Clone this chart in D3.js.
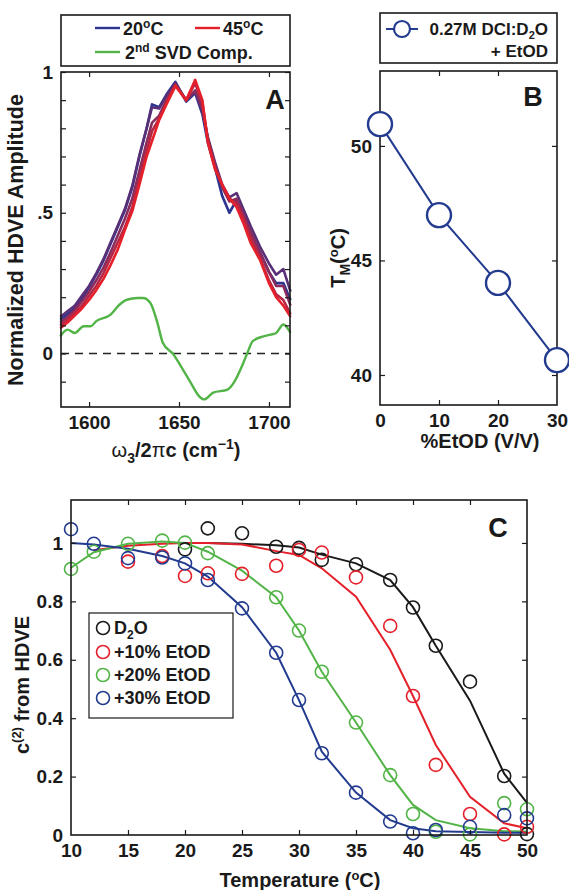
<!DOCTYPE html>
<html>
<head>
<meta charset="utf-8">
<script src="https://cdn.jsdelivr.net/npm/d3@7"></script>
<style>
  body { margin: 0; background: #fff; }
  svg text { font-family: "Liberation Sans", Arial, Helvetica, sans-serif; font-weight: bold; fill: #1a1a1a; }
</style>
</head>
<body>
<div id="chart"></div>
<script>
// ---- Panel A: HDVE spectra ----
const waveNumbers = [1584,1588,1592,1596,1600,1604,1608,1612,1616,1620,1624,1628,1632,1635,1639,1643,1648,1654,1659,1663,1666,1670,1674,1678,1682,1686,1690,1695,1700,1704,1708,1712];
const spec20 = [0.12,0.14,0.16,0.195,0.235,0.28,0.33,0.39,0.45,0.51,0.59,0.70,0.80,0.885,0.875,0.92,0.965,0.895,0.925,0.85,0.75,0.66,0.56,0.50,0.545,0.49,0.43,0.36,0.29,0.25,0.25,0.19];
const spec25 = [0.13,0.15,0.17,0.205,0.24,0.285,0.335,0.395,0.455,0.515,0.595,0.705,0.80,0.875,0.87,0.915,0.96,0.90,0.93,0.86,0.77,0.68,0.60,0.555,0.57,0.51,0.45,0.38,0.32,0.28,0.30,0.22];
const spec30 = [0.11,0.13,0.155,0.185,0.22,0.26,0.305,0.36,0.42,0.48,0.55,0.65,0.75,0.82,0.845,0.90,0.955,0.90,0.935,0.87,0.765,0.67,0.59,0.54,0.55,0.49,0.43,0.36,0.29,0.24,0.24,0.17];
const spec40 = [0.10,0.12,0.145,0.17,0.205,0.24,0.285,0.34,0.395,0.45,0.52,0.62,0.72,0.79,0.835,0.89,0.955,0.90,0.96,0.89,0.76,0.66,0.60,0.55,0.535,0.48,0.41,0.34,0.26,0.21,0.19,0.14];
const spec45 = [0.09,0.11,0.135,0.16,0.19,0.225,0.265,0.315,0.37,0.44,0.505,0.60,0.70,0.755,0.83,0.885,0.95,0.90,0.972,0.90,0.75,0.655,0.60,0.55,0.52,0.46,0.39,0.333,0.25,0.20,0.17,0.13];
const svdWave = [1584,1588,1592,1597,1601,1604,1612,1617,1621,1627,1630,1634,1638,1641,1647,1651,1656,1662,1664,1669,1677,1681,1685,1688,1691,1697,1701,1704,1708,1712];
const svdComp = [0.061,0.085,0.073,0.097,0.097,0.115,0.138,0.174,0.191,0.197,0.197,0.180,0.109,0.038,-0.004,-0.045,-0.098,-0.157,-0.163,-0.139,-0.128,-0.098,-0.045,0.002,0.044,0.061,0.067,0.073,0.103,0.073];

// ---- Panel B: melting temperature vs EtOD ----
const etodPercent = [0, 10, 20, 30];
const meltTemps = [50.95, 46.98, 44.02, 40.65];

// ---- Panel C: c(2) vs temperature ----
const temps = [10,12,15,18,20,22,25,28,30,32,35,38,40,42,45,48,50];
const d2oPts   = [null,null,null,null,0.978,1.050,1.033,0.987,0.983,0.942,0.927,0.873,0.779,0.648,0.525,0.202,0.003];
const d2oFit   = [null,null,null,null,1.0,1.0,0.997,0.992,0.984,0.960,0.930,0.873,0.780,0.648,0.460,0.210,0.110];
const etod10Pts = [null,null,0.936,0.955,0.887,0.896,0.894,0.922,0.976,0.967,0.882,0.716,0.476,0.240,0.072,0.002,0.028];
const etod10Fit = [null,0.975,0.990,0.997,1.0,1.0,0.995,0.972,0.959,0.913,0.816,0.634,0.476,0.308,0.131,0.040,0.023];
const etod20Pts = [0.911,0.970,0.997,1.008,1.001,0.965,null,0.814,0.700,0.559,0.385,0.205,0.072,0.011,0.002,0.109,0.088];
const etod20Fit = [0.915,0.968,0.997,1.005,1.0,0.970,0.905,0.814,0.700,0.559,0.385,0.205,0.103,0.051,0.023,0.013,0.012];
const etod30Pts = [1.047,0.997,0.948,0.950,0.930,0.873,0.776,0.624,0.462,0.280,0.145,0.046,0.006,0.017,0.028,0.068,0.057];
const etod30Fit = [1.0,0.995,0.980,0.955,0.930,0.885,0.780,0.624,0.462,0.285,0.145,0.051,0.023,0.013,0.010,0.008,0.008];

const width = 569, height = 890;
const ink = '#1a1a1a';
const blue = '#2b3590', red = '#e4202a', green = '#52b447', navy = '#233b8f';

const svg = d3.select('#chart').append('svg')
  .attr('width', width).attr('height', height);

// draws a closed box with inward ticks on all four sides
function frame(g, x, y, xTicks, yTicks, xFmt, yFmt, yLabelTicks) {
  const [x0, x1] = x.range(), [y1, y0] = y.range();
  const tl = 5;
  g.append('g').attr('transform', `translate(0,${y1})`)
    .call(d3.axisBottom(x).tickValues(xTicks).tickSizeInner(-tl).tickSizeOuter(0).tickPadding(9).tickFormat(xFmt));
  g.append('g').attr('transform', `translate(0,${y0})`)
    .call(d3.axisTop(x).tickValues(xTicks).tickSizeInner(-tl).tickSizeOuter(0).tickFormat(''));
  g.append('g').attr('transform', `translate(${x0},0)`)
    .call(d3.axisLeft(y).tickValues(yTicks).tickSizeInner(-tl).tickSizeOuter(0).tickPadding(8)
      .tickFormat(d => (yLabelTicks ? (yLabelTicks.some(v => Math.abs(v - d) < 1e-9) ? yFmt(d) : '') : yFmt(d))));
  g.append('g').attr('transform', `translate(${x1},0)`)
    .call(d3.axisRight(y).tickValues(yTicks).tickSizeInner(-tl).tickSizeOuter(0).tickFormat(''));
  g.append('rect').attr('x', x0).attr('y', y0).attr('width', x1 - x0).attr('height', y1 - y0)
    .attr('fill', 'none').attr('stroke', ink).attr('stroke-width', 1.6);
  g.selectAll('.domain').remove();
  g.selectAll('.tick line').attr('stroke', ink).attr('stroke-width', 1.2);
  g.selectAll('.tick text').style('font-size', '19px').attr('fill', ink);
}

// ===================== Panel A =====================
{
  const g = svg.append('g');
  const x = d3.scaleLinear().domain([1584.4, 1711.7]).range([61, 290]);
  const y = d3.scaleLinear().domain([-0.19, 1]).range([407, 72]);
  const spectra = [spec20, spec25, spec30, spec40, spec45];
  const mix = d3.interpolateRgb(blue, red);
  const line = d3.line().x(d => x(d[0])).y(d => y(d[1]));

  g.append('line').attr('x1', x.range()[0]).attr('x2', x.range()[1])
    .attr('y1', y(0)).attr('y2', y(0))
    .attr('stroke', '#222').attr('stroke-width', 1.6).attr('stroke-dasharray', '8,6');

  spectra.forEach((s, i) => {
    g.append('path').datum(waveNumbers.map((w, j) => [w, s[j]]))
      .attr('d', line).attr('fill', 'none')
      .attr('stroke', mix(i / (spectra.length - 1)))
      .attr('stroke-width', 2.6).attr('stroke-linejoin', 'round');
  });
  g.append('path').datum(svdWave.map((w, j) => [w, svdComp[j]]))
    .attr('d', line.curve(d3.curveMonotoneX)).attr('fill', 'none')
    .attr('stroke', green).attr('stroke-width', 2.4);

  frame(g, x, y, [1600, 1650, 1700], d3.range(-0.1, 1.01, 0.1).map(v => +v.toFixed(1)),
    d => d, d => (d === 0 ? '0' : d === 1 ? '1' : '.5'), [0, 0.5, 1]);

  g.append('text').attr('x', 275).attr('y', 109).attr('text-anchor', 'middle')
    .style('font-size', '27px').text('A');

  g.append('text').attr('transform', 'translate(23,240) rotate(-90)')
    .attr('text-anchor', 'middle').style('font-size', '21.5px')
    .text('Normalized HDVE Amplitude');

  const xl = g.append('text').attr('x', 176).attr('y', 457).attr('text-anchor', 'middle').style('font-size', '20px');
  xl.append('tspan').style('font-weight', 'normal').text('ω');
  xl.append('tspan').attr('dy', 6).style('font-size', '14px').text('3');
  xl.append('tspan').attr('dy', -6).text('/2');
  xl.append('tspan').style('font-weight', 'normal').text('π');
  xl.append('tspan').text('c (cm');
  xl.append('tspan').attr('dy', -8).style('font-size', '14px').text('−1');
  xl.append('tspan').attr('dy', 8).text(')');

  // legend
  const lg = g.append('g');
  lg.append('rect').attr('x', 61).attr('y', 15).attr('width', 229).attr('height', 51)
    .attr('fill', '#fff').attr('stroke', ink).attr('stroke-width', 1.6);
  const items = [
    { x: 95, y: 28, c: blue, t: ['20', 'o', 'C'] },
    { x: 195, y: 28, c: red, t: ['45', 'o', 'C'] }
  ];
  items.forEach(it => {
    lg.append('line').attr('x1', it.x).attr('x2', it.x + 25).attr('y1', it.y).attr('y2', it.y)
      .attr('stroke', it.c).attr('stroke-width', 2.4);
    const t = lg.append('text').attr('x', it.x + 28).attr('y', it.y + 7).style('font-size', '18px');
    t.append('tspan').text(it.t[0]);
    t.append('tspan').attr('dy', -7).style('font-size', '12px').text(it.t[1]);
    t.append('tspan').attr('dy', 7).text(it.t[2]);
  });
  lg.append('line').attr('x1', 95).attr('x2', 120).attr('y1', 52).attr('y2', 52)
    .attr('stroke', green).attr('stroke-width', 2.4);
  const t2 = lg.append('text').attr('x', 125).attr('y', 59).style('font-size', '18px');
  t2.append('tspan').text('2');
  t2.append('tspan').attr('dy', -7).style('font-size', '12px').text('nd');
  t2.append('tspan').attr('dy', 7).text(' SVD Comp.');
}

// ===================== Panel B =====================
{
  const g = svg.append('g');
  const x = d3.scaleLinear().domain([0, 30]).range([380, 557]);
  const y = d3.scaleLinear().domain([38.69, 53.27]).range([405, 71]);

  g.append('path').datum(etodPercent.map((p, i) => [p, meltTemps[i]]))
    .attr('d', d3.line().x(d => x(d[0])).y(d => y(d[1])))
    .attr('fill', 'none').attr('stroke', navy).attr('stroke-width', 2);

  frame(g, x, y, [0, 10, 20, 30], [40, 45, 50], d => d, d => d);
  // no tick marks in the corners (0 and 30)
  g.selectAll('.tick').filter(d => d === 0 || d === 30).select('line').remove();

  g.selectAll('circle.tm').data(etodPercent.map((p, i) => [p, meltTemps[i]])).enter()
    .append('circle').attr('class', 'tm')
    .attr('cx', d => x(d[0])).attr('cy', d => y(d[1])).attr('r', 12)
    .attr('fill', '#fff').attr('stroke', navy).attr('stroke-width', 2.4);

  g.append('text').attr('x', 533).attr('y', 106).attr('text-anchor', 'middle')
    .style('font-size', '27px').text('B');

  const yl = g.append('text').attr('transform', 'translate(345,258) rotate(-90)')
    .attr('text-anchor', 'middle').style('font-size', '20px');
  yl.append('tspan').text('T');
  yl.append('tspan').attr('dy', 5).style('font-size', '14px').text('M');
  yl.append('tspan').attr('dy', -5).text('(');
  yl.append('tspan').attr('dy', -7).style('font-size', '13px').text('o');
  yl.append('tspan').attr('dy', 7).text('C)');

  g.append('text').attr('x', 480).attr('y', 448).attr('text-anchor', 'middle')
    .style('font-size', '20px').text('%EtOD (V/V)');

  const lg = g.append('g');
  lg.append('rect').attr('x', 380).attr('y', 13).attr('width', 177).attr('height', 50)
    .attr('fill', '#fff').attr('stroke', ink).attr('stroke-width', 1.6);
  lg.append('line').attr('x1', 386).attr('x2', 418).attr('y1', 29).attr('y2', 29)
    .attr('stroke', navy).attr('stroke-width', 2);
  lg.append('circle').attr('cx', 402).attr('cy', 29).attr('r', 8)
    .attr('fill', '#fff').attr('stroke', navy).attr('stroke-width', 2.2);
  const t = lg.append('text').attr('x', 548).attr('y', 35).attr('text-anchor', 'end').style('font-size', '17px');
  t.append('tspan').text('0.27M DCI:D');
  t.append('tspan').attr('dy', 4).style('font-size', '11px').text('2');
  t.append('tspan').attr('dy', -4).text('O');
  lg.append('text').attr('x', 548).attr('y', 57).attr('text-anchor', 'end').style('font-size', '17px').text('+ EtOD');
}

// ===================== Panel C =====================
{
  const g = svg.append('g');
  const x = d3.scaleLinear().domain([10, 50]).range([71, 527]);
  const y = d3.scaleLinear().domain([0, 1.147]).range([835, 500]);
  const series = [
    { name: 'D2O', c: ink, pts: d2oPts, fit: d2oFit },
    { name: '+10% EtOD', c: red, pts: etod10Pts, fit: etod10Fit },
    { name: '+20% EtOD', c: green, pts: etod20Pts, fit: etod20Fit },
    { name: '+30% EtOD', c: navy, pts: etod30Pts, fit: etod30Fit }
  ];
  const line = d3.line().defined(d => d[1] != null).x(d => x(d[0])).y(d => y(d[1]));

  series.forEach(s => {
    g.append('path').datum(temps.map((t, i) => [t, s.fit[i]]))
      .attr('d', line).attr('fill', 'none').attr('stroke', s.c).attr('stroke-width', 2);
  });
  series.forEach(s => {
    g.selectAll(null).data(temps.map((t, i) => [t, s.pts[i]]).filter(d => d[1] != null)).enter()
      .append('circle').attr('cx', d => x(d[0])).attr('cy', d => y(d[1])).attr('r', 6.5)
      .attr('fill', 'none').attr('stroke', s.c).attr('stroke-width', 1.6);
  });

  frame(g, x, y, d3.range(10, 51, 5), [0, 0.2, 0.4, 0.6, 0.8, 1],
    d => d, d => (d === 0 || d === 1 ? String(d) : d.toFixed(1)));
  g.selectAll('.tick').filter(d => d === 0 || d === 10 || d === 50).select('line').remove();

  g.append('text').attr('x', 498).attr('y', 537).attr('text-anchor', 'middle')
    .style('font-size', '27px').text('C');

  const yl = g.append('text').attr('transform', 'translate(29,685) rotate(-90)')
    .attr('text-anchor', 'middle').style('font-size', '20px');
  yl.append('tspan').text('c');
  yl.append('tspan').attr('dy', -8).style('font-size', '13px').text('(2)');
  yl.append('tspan').attr('dy', 8).text(' from HDVE');

  const xl = g.append('text').attr('x', 300).attr('y', 887).attr('text-anchor', 'middle').style('font-size', '20px');
  xl.append('tspan').text('Temperature (');
  xl.append('tspan').attr('dy', -7).style('font-size', '13px').text('o');
  xl.append('tspan').attr('dy', 7).text('C)');

  const lg = g.append('g');
  lg.append('rect').attr('x', 89).attr('y', 613).attr('width', 144).attr('height', 105)
    .attr('fill', '#fff').attr('stroke', ink).attr('stroke-width', 1.2);
  const rows = [628, 652, 675, 698];
  series.forEach((s, i) => {
    lg.append('circle').attr('cx', 103).attr('cy', rows[i]).attr('r', 6.5)
      .attr('fill', 'none').attr('stroke', s.c).attr('stroke-width', 1.6);
    const t = lg.append('text').attr('x', 114).attr('y', rows[i] + 6).style('font-size', '18px');
    if (i === 0) {
      t.append('tspan').text('D');
      t.append('tspan').attr('dy', 5).style('font-size', '12px').text('2');
      t.append('tspan').attr('dy', -5).text('O');
    } else {
      t.text(s.name);
    }
  });
}
</script>
</body>
</html>
